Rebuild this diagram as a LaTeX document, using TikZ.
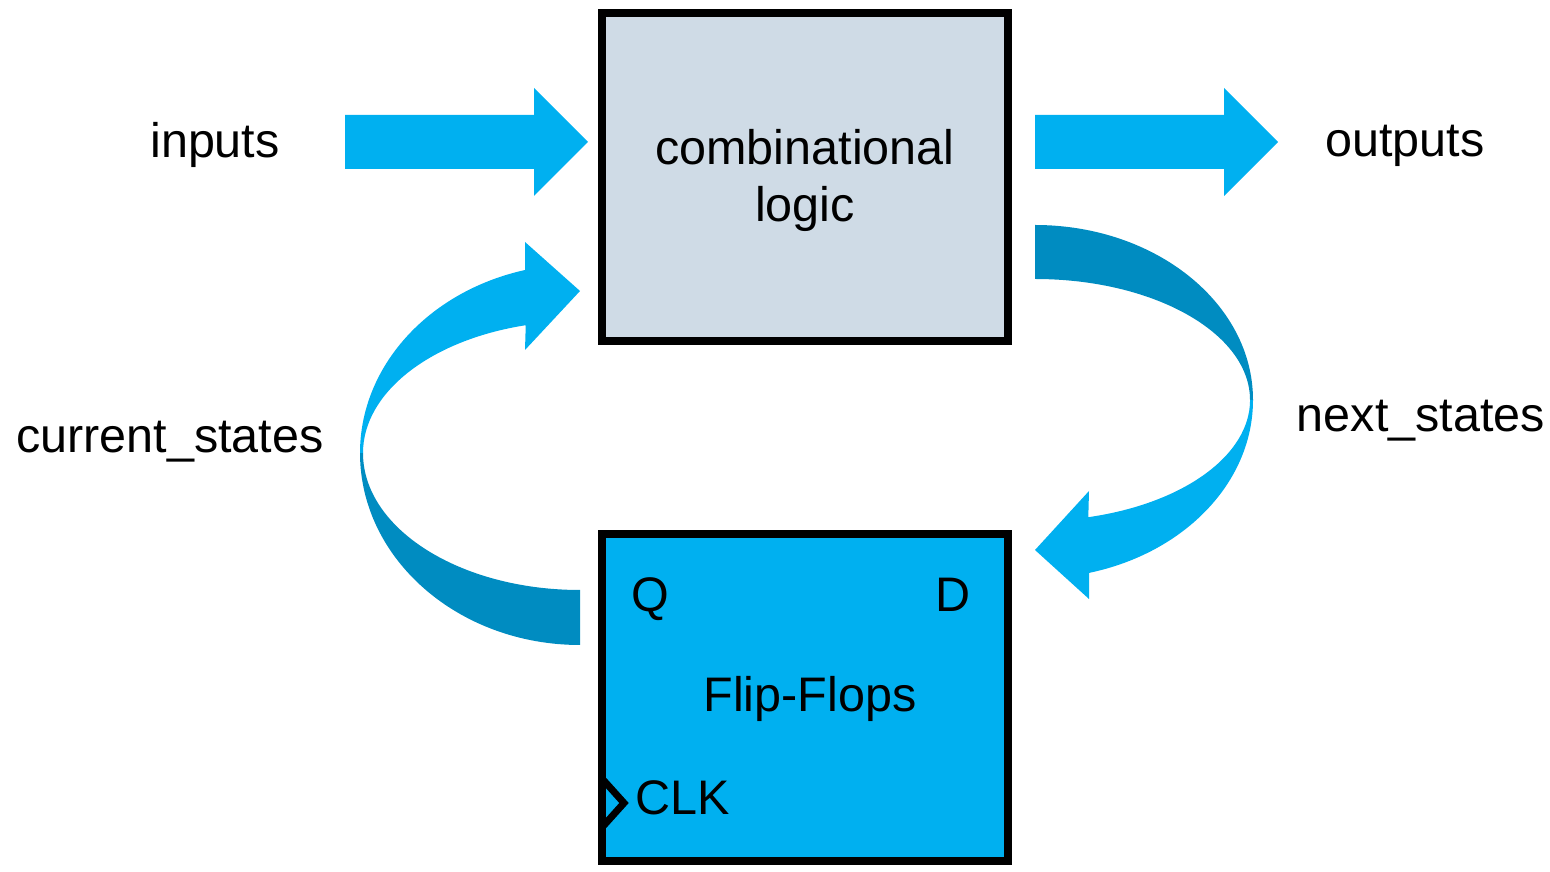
\documentclass[tikz,border=0pt]{standalone}
\usepackage{fontspec}
\setmainfont{Liberation Sans}
\definecolor{cyanL}{HTML}{00B0F0}
\definecolor{cyanD}{HTML}{008CC1}
\definecolor{boxgray}{HTML}{CFDBE6}
\tikzset{
  lbl/.style={inner sep=0pt, anchor=base, font=\fontsize{48.5}{58}\selectfont},
  blockbox/.style={draw=black, line width=8pt},
}
\begin{document}
\begin{tikzpicture}[x=1pt,y=1pt]
\useasboundingbox (0,0) rectangle (1550,872);
% boxes
\filldraw[blockbox, fill=boxgray] (601.5,530.8) rectangle (1007.5,858.7);
\filldraw[blockbox, fill=cyanL] (601.5,10.8) rectangle (1007.5,337.5);
% CLK triangle
\draw[line width=7pt, line join=miter] (601.5,94) -- (624,69) -- (601.5,44);
% straight arrows
\fill[cyanL] (345,703) -- (345,757) -- (534,757) -- (534,784) -- (588,730) -- (534,676) -- (534,703) -- cycle;
\fill[cyanL] (1035,703) -- (1035,757) -- (1224,757) -- (1224,784) -- (1278,730) -- (1224,676) -- (1224,703) -- cycle;
% left curved arrow (current_states)
\fill[cyanD] (580,227) arc[start angle=270, end angle=180, x radius=220, y radius=192]
  -- (363,419) arc[start angle=180, end angle=270, x radius=217, y radius=137] -- cycle;
\fill[cyanL] (360,419) arc[start angle=180, end angle=104.48, x radius=220, y radius=189]
  -- (525,630) -- (580,581) -- (525,522) -- (525.75,546.8)
  arc[start angle=104.48, end angle=180, x radius=217, y radius=132] -- cycle;
% right curved arrow (next_states)
\fill[cyanD] (1035,647) arc[start angle=90, end angle=0, x radius=218, y radius=175]
  -- (1250,472) arc[start angle=0, end angle=90, x radius=215, y radius=121] -- cycle;
\fill[cyanL] (1253,472) arc[start angle=0, end angle=-75.66, x radius=218, y radius=178.5]
  -- (1089,273) -- (1035,322) -- (1089,381) -- (1088.3,354.8)
  arc[start angle=-75.66, end angle=0, x radius=215, y radius=121] -- cycle;
% labels
\node[lbl] (inputs) at (215,714) {inputs};
\node[lbl] (outputs) at (1405,715) {outputs};
\node[lbl] (combA) at (805,707) {combinational};
\node[lbl] (combB) at (805,650) {logic};
\node[lbl] (cur) at (170,419) {current\_states};
\node[lbl] (nxt) at (1421,440) {next\_states};
\node[lbl] (q) at (650,260) {Q};
\node[lbl] (d) at (953,260) {D};
\node[lbl] (fflbl) at (810,160) {Flip-Flops};
\node[lbl, anchor=base west] (clk) at (635,57) {CLK};
\end{tikzpicture}
\end{document}
